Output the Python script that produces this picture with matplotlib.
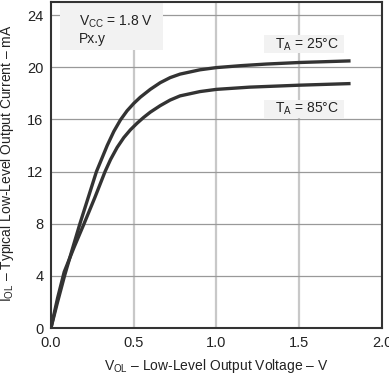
import matplotlib
matplotlib.use("Agg")
import matplotlib.pyplot as plt
from matplotlib.patches import Rectangle

plt.rcParams["font.family"] = ["Liberation Sans", "DejaVu Sans"]
plt.rcParams["mathtext.fontset"] = "custom"
plt.rcParams["mathtext.rm"] = "Liberation Sans"
plt.rcParams["mathtext.it"] = "Liberation Sans"

# courbe T_A = 25 C
v_25 = [0, 0.04, 0.082, 0.128, 0.175, 0.225, 0.275, 0.34, 0.38, 0.42, 0.46, 0.5,
        0.54, 0.6, 0.66, 0.72, 0.78, 0.9, 1.0, 1.15, 1.3, 1.5, 1.65, 1.8]
i_25 = [0, 2.0, 4, 6, 8, 10, 12, 14, 15.08, 15.96, 16.66, 17.22,
        17.7, 18.3, 18.81, 19.2, 19.47, 19.8, 19.97, 20.12, 20.24, 20.36, 20.42, 20.48]

# courbe T_A = 85 C
v_85 = [0, 0.04, 0.08, 0.14, 0.2, 0.265, 0.327, 0.36, 0.4, 0.44, 0.48, 0.52,
        0.56, 0.6, 0.66, 0.72, 0.78, 0.9, 1.0, 1.2, 1.5, 1.8]
i_85 = [0, 2.3, 4.3, 6.2, 8, 10, 12, 12.92, 13.85, 14.6, 15.2, 15.7,
        16.15, 16.55, 17.05, 17.48, 17.8, 18.13, 18.3, 18.47, 18.62, 18.74]

x_ticks = [0.0, 0.5, 1.0, 1.5, 2.0]
y_ticks = [0, 4, 8, 12, 16, 20, 24]

TEXTE = "#222222"

fig = plt.figure(figsize=(3.89, 3.75), dpi=100)
ax = fig.add_axes([0.131, 0.1253, 0.851, 0.8694])

for x in x_ticks[1:-1]:
    ax.axvline(x, color="#c8c8c8", lw=1.6, zorder=0)
for y in y_ticks[1:]:
    ax.axhline(y, color="#999999", lw=0.9, zorder=0)

ax.plot(v_25, i_25, color="#333333", lw=2.4, zorder=3, solid_joinstyle="round")
ax.plot(v_85, i_85, color="#333333", lw=2.4, zorder=3, solid_joinstyle="round")

ax.set_xlim(0, 2.0)
ax.set_ylim(0, 25)
ax.set_xticks(x_ticks)
ax.set_xticklabels([f"{x:.1f}" for x in x_ticks])
ax.set_yticks(y_ticks)
ax.tick_params(length=0, labelsize=10.5, colors=TEXTE)
ax.tick_params(axis="x", pad=6)
ax.tick_params(axis="y", pad=5.5)
for s in ax.spines.values():
    s.set_color("#333333")
    s.set_linewidth(1.5)

ax.set_xlabel(r"V$_{\mathrm{OL}}$ – Low-Level Output Voltage – V", fontsize=10, labelpad=5, color=TEXTE)
ax.set_ylabel(r"I$_{\mathrm{OL}}$ – Typical Low-Level Output Current – mA", fontsize=10, color=TEXTE)
ax.yaxis.set_label_coords(-0.105, 0.505)

# cartouches gris clair
fond = "#f2f2f2"
ax.add_patch(Rectangle((0.055, 21.33), 0.62, 3.67, fc=fond, ec="none", zorder=1))
ax.add_patch(Rectangle((1.285, 21.1), 0.485, 1.38, fc=fond, ec="none", zorder=1))
ax.add_patch(Rectangle((1.285, 16.11), 0.485, 1.38, fc=fond, ec="none", zorder=1))

ax.text(0.17, 23.17, "V$_{\\mathrm{CC}}$ = 1.8 V", fontsize=10, va="baseline", ha="left", color=TEXTE, zorder=4)
ax.text(0.17, 21.86, "Px.y", fontsize=10, va="baseline", ha="left", color=TEXTE, zorder=4)
ax.text(1.352, 21.4, "T$_{\\mathrm{A}}$ = 25°C", fontsize=10, ha="left", va="baseline", color=TEXTE, zorder=4)
ax.text(1.352, 16.49, "T$_{\\mathrm{A}}$ = 85°C", fontsize=10, ha="left", va="baseline", color=TEXTE, zorder=4)

fig.savefig("out.png", dpi=100)
